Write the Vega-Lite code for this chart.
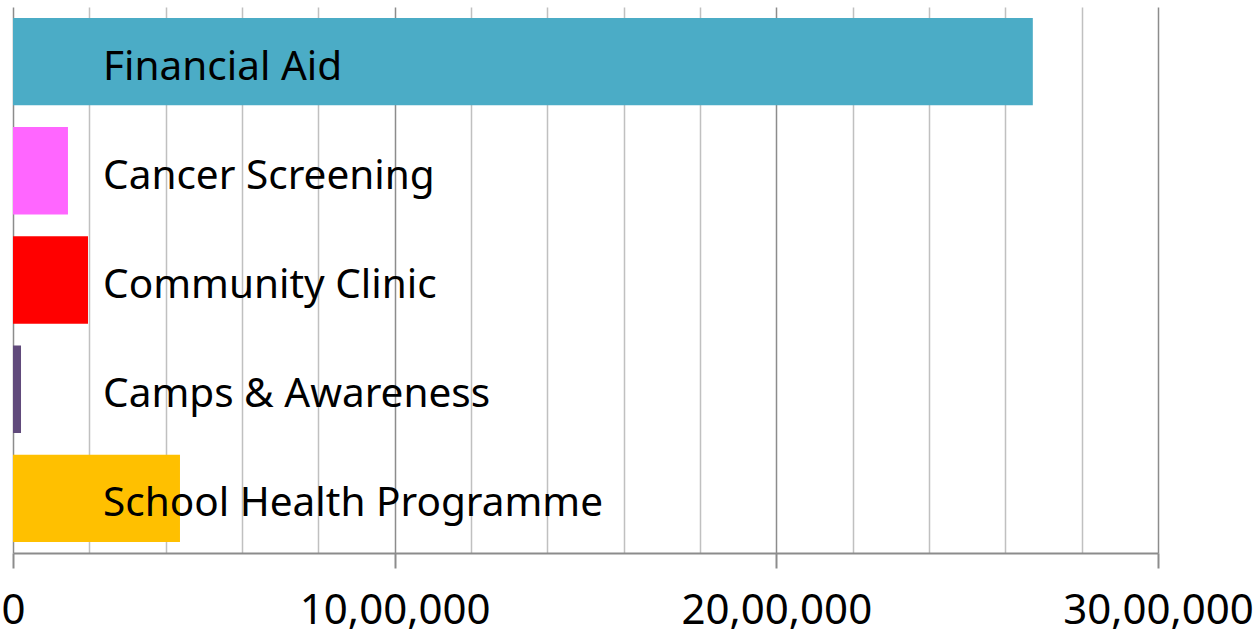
{
  "$schema": "https://vega.github.io/schema/vega-lite/v6.json",
  "width": 1145,
  "height": 546,
  "autosize": {"type": "none"},
  "padding": {"left": 13, "top": 7, "right": 97, "bottom": 86},
  "background": "white",
  "config": {"view": {"stroke": null}, "font": "Noto Sans"},
  "data": {
    "values": [
      {"category": "Financial Aid", "amount": 2672000},
      {"category": "Cancer Screening", "amount": 144000},
      {"category": "Community Clinic", "amount": 196500},
      {"category": "Camps & Awareness", "amount": 21000},
      {"category": "School Health Programme", "amount": 437500}
    ]
  },
  "encoding": {
    "y": {
      "field": "category",
      "type": "nominal",
      "sort": null,
      "axis": null,
      "scale": {"paddingInner": 0.2, "paddingOuter": 0.1}
    }
  },
  "layer": [
    {
      "mark": {"type": "bar"},
      "encoding": {
        "x": {
          "field": "amount",
          "type": "quantitative",
          "scale": {"domain": [0, 3000000], "nice": false},
          "axis": {
            "title": null,
            "values": [0, 200000, 400000, 600000, 800000, 1000000, 1200000, 1400000, 1600000, 1800000, 2000000, 2200000, 2400000, 2600000, 2800000, 3000000],
            "labelExpr": "datum.value == 0 ? '0' : (datum.value % 1000000 == 0 ? format(datum.value / 100000, 'd') + ',00,000' : '')",
            "grid": true,
            "gridColor": {"condition": {"test": "datum.value % 1000000 == 0", "value": "#8c8c8c"}, "value": "#c0c0c0"},
            "gridWidth": 1.5,
            "domainColor": "#8c8c8c",
            "domainWidth": 2,
            "tickColor": {"condition": {"test": "datum.value % 1000000 == 0", "value": "#8c8c8c"}, "value": "transparent"},
            "tickWidth": 2,
            "tickSize": 15,
            "labelPadding": 22,
            "labelFontSize": 42,
            "labelColor": "black",
            "labelFont": "Noto Sans",
            "labelLimit": 0,
            "labelFlush": false,
            "labelOverlap": false
          }
        },
        "color": {
          "field": "category",
          "type": "nominal",
          "legend": null,
          "scale": {
            "domain": ["Financial Aid", "Cancer Screening", "Community Clinic", "Camps & Awareness", "School Health Programme"],
            "range": ["#4bacc6", "#ff66ff", "#ff0000", "#604a7b", "#ffc000"]
          }
        }
      }
    },
    {
      "mark": {"type": "text", "align": "left", "baseline": "middle", "fontSize": 40.5, "font": "Noto Sans", "color": "black", "dy": 6},
      "encoding": {
        "x": {"datum": 236000, "type": "quantitative"},
        "text": {"field": "category"}
      }
    }
  ]
}
